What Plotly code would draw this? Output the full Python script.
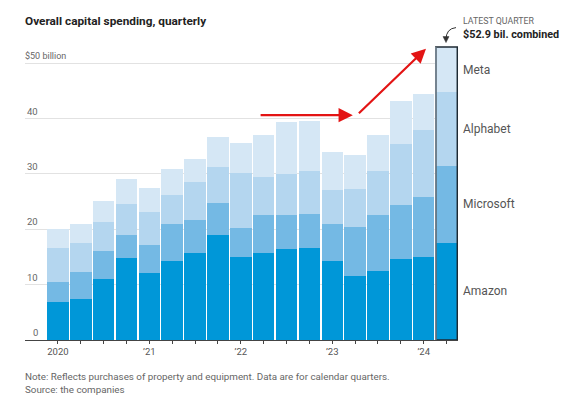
import plotly.graph_objects as go

# Quarterly capital spending, $ billion
quarters = ["2020 Q1", "2020 Q2", "2020 Q3", "2020 Q4",
            "2021 Q1", "2021 Q2", "2021 Q3", "2021 Q4",
            "2022 Q1", "2022 Q2", "2022 Q3", "2022 Q4",
            "2023 Q1", "2023 Q2", "2023 Q3", "2023 Q4",
            "2024 Q1", "2024 Q2"]
amazon = [6.8, 7.4, 11.1, 14.8, 12.1, 14.3, 15.7, 19.0, 15.0, 15.7, 16.4, 16.6, 14.2, 11.5, 12.5, 14.6, 15.0, 17.6]
microsoft = [3.7, 4.8, 4.9, 4.2, 5.1, 6.6, 5.9, 5.8, 5.3, 6.9, 6.2, 6.2, 6.7, 8.9, 10.0, 9.8, 10.9, 13.9]
alphabet = [6.1, 5.3, 5.4, 5.5, 5.9, 5.3, 6.9, 6.4, 9.8, 6.9, 7.4, 7.7, 6.2, 6.9, 8.0, 11.0, 12.1, 13.2]
meta = [3.5, 3.4, 3.7, 4.6, 4.4, 4.7, 4.2, 5.5, 5.5, 7.6, 9.4, 9.1, 6.9, 6.2, 6.6, 7.7, 6.4, 8.2]

year_labels = {"2020 Q1": "2020", "2021 Q1": "’21", "2022 Q1": "’22", "2023 Q1": "’23", "2024 Q1": "’24"}
y_ticks = [0, 10, 20, 30, 40, 50]

series = [("Amazon", amazon, "#0097d8"),
          ("Microsoft", microsoft, "#74b9e4"),
          ("Alphabet", alphabet, "#b4d6ef"),
          ("Meta", meta, "#d5e7f5")]

FONT = "Roboto, sans-serif"
x = list(range(len(quarters)))

fig = go.Figure()
for name, vals, color in series:
    fig.add_trace(go.Bar(x=x, y=vals, name=name, marker_color=color,
                         marker_line_width=0, hovertext=quarters))

# page body has an 8px margin, so the figure is drawn 8px smaller and everything
# below is given in page pixels
OFF = 8
W, H = 575 - OFF, 402 - OFF
L, R, T, B = 25, 458, 41.4, 340  # plot area in page pixels


def px(xp, yp):
    return (xp - L) / (R - L), (B - yp) / (B - T)


annotations = []
# y tick labels above gridlines
for v in y_ticks:
    if v == 50:
        annotations.append(dict(x=0, y=v, xref="paper", yref="y", text="$50 billion",
                                xanchor="left", yanchor="bottom", showarrow=False, xshift=-2,
                                font=dict(size=9, color="#666", family=FONT)))
    else:
        annotations.append(dict(x=px(40, 0)[0], y=v, xref="paper", yref="y", text=str(v),
                                xanchor="right", yanchor="bottom", showarrow=False,
                                font=dict(size=9.5, color="#666", family=FONT)))

# series labels beside the latest bar
last = len(quarters) - 1
base = 0
for name, vals, color in series:
    annotations.append(dict(x=last + 0.5, y=base + vals[last] / 2, xref="x", yref="y",
                            text=name, xanchor="left", showarrow=False, xshift=3,
                            font=dict(size=12, color="#555", family=FONT)))
    base += vals[last]
total_last = base

# red arrows
annotations.append(dict(x=12.9, y=40.6, ax=8.8, ay=40.6, xref="x", yref="y",
                        axref="x", ayref="y", text="", showarrow=True,
                        arrowhead=2, arrowsize=1.3, arrowwidth=2.2, arrowcolor="#e31414"))
annotations.append(dict(x=16.1, y=52.6, ax=13.1, ay=40.7, xref="x", yref="y",
                        axref="x", ayref="y", text="", showarrow=True,
                        arrowhead=2, arrowsize=1.3, arrowwidth=2.2, arrowcolor="#e31414"))

# latest quarter callout
lx, ly = px(461, 21)
annotations.append(dict(x=lx, y=ly, xref="paper", yref="paper", text="LATEST QUARTER",
                        xanchor="left", yanchor="middle", showarrow=False,
                        font=dict(size=8.8, color="#666", family=FONT)))
lx, ly = px(461, 35)
annotations.append(dict(x=lx, y=ly, xref="paper", yref="paper",
                        text="<b>$52.9 bil. combined</b>",
                        xanchor="left", yanchor="middle", showarrow=False,
                        font=dict(size=10.8, color="#222", family=FONT)))

# title and notes
annotations.append(dict(x=0, y=px(0, 21)[1], xref="paper", yref="paper",
                        text="<b>Overall capital spending, quarterly</b>",
                        xanchor="left", yanchor="middle", showarrow=False, xshift=-2,
                        font=dict(size=11.8, color="#222", family=FONT)))
annotations.append(dict(x=0, y=px(0, 376)[1], xref="paper", yref="paper",
                        text="Note: Reflects purchases of property and equipment. Data are for calendar quarters.",
                        xanchor="left", yanchor="middle", showarrow=False, xshift=-2,
                        font=dict(size=9.8, color="#666", family=FONT)))
annotations.append(dict(x=0, y=px(0, 389)[1], xref="paper", yref="paper",
                        text="Source: the companies",
                        xanchor="left", yanchor="middle", showarrow=False, xshift=-2,
                        font=dict(size=9.8, color="#666", family=FONT)))

# curved pointer to latest bar
x0, y0 = px(456, 28)
xc, yc = px(446, 29)
x1, y1 = px(446, 40)
ha, hb = px(443, 37), px(449, 37)
hc = px(446, 43)
shapes = [
    dict(type="path", xref="paper", yref="paper",
         path=f"M {x0},{y0} Q {xc},{yc} {x1},{y1}", line=dict(color="#333", width=1)),
    dict(type="path", xref="paper", yref="paper",
         path=f"M {ha[0]},{ha[1]} L {hb[0]},{hb[1]} L {hc[0]},{hc[1]} Z",
         fillcolor="#333", line=dict(color="#333", width=0.5)),
    # outline of the latest bar
    dict(type="rect", xref="x", yref="y", x0=last - 0.47, x1=last + 0.47, y0=0, y1=total_last,
         line=dict(color="#1e2a33", width=1.5)),
    dict(type="line", xref="x", yref="y", x0=last - 0.47, x1=last - 0.47, y0=0, y1=total_last,
         line=dict(color="#7a8a96", width=1.5)),
]

fig.update_layout(
    barmode="stack",
    bargap=0.06,
    width=W, height=H,
    margin=dict(l=L - OFF, r=575 - R, t=T - OFF, b=402 - B),
    plot_bgcolor="white", paper_bgcolor="white",
    showlegend=False,
    annotations=annotations,
    shapes=shapes,
    font=dict(family=FONT),
)

fig.update_xaxes(range=[-1.44, last + 0.5], tickvals=x,
                 ticktext=[year_labels.get(q, "") for q in quarters],
                 showline=True, linecolor="#444", linewidth=1,
                 ticks="outside", ticklen=3, tickcolor="#444", showgrid=False, zeroline=False,
                 tickfont=dict(size=9.5, color="#555", family=FONT))
fig.update_yaxes(range=[0, 54], tickvals=y_ticks, showticklabels=False,
                 showgrid=True, gridcolor="#e2e2e2", gridwidth=1, zeroline=False)

fig.write_html("out.html")
